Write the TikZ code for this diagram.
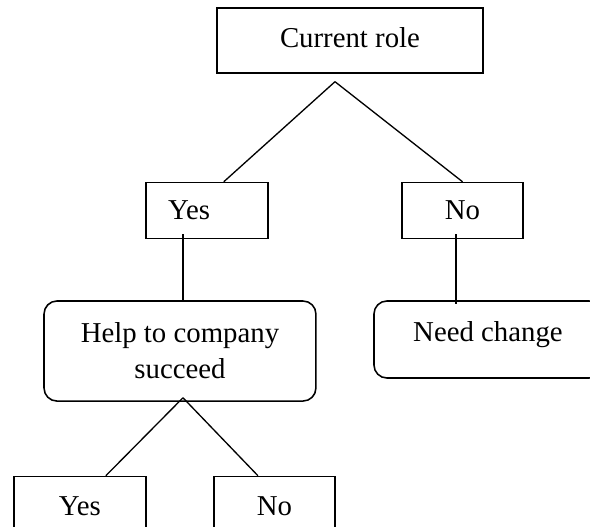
\documentclass[tikz,border=0pt]{standalone}
\usepackage{fontspec}
\setmainfont{Liberation Serif}
\usetikzlibrary{positioning}

\begin{document}
\begin{tikzpicture}[x=0.4167pt, y=-0.4167pt,
box/.style={rectangle, draw=black, line width=0.65pt, align=center, font=\fontsize{12}{15}\selectfont},
soft/.style={box, rounded corners=5.4pt},
link/.style={draw=black, line width=0.55pt} ]
\useasboundingbox (0,0) rectangle (590,527);
\node (R) [box, minimum width=110.8pt, minimum height=27.1pt, text depth=2.8pt] at (350,40.5) {Current role};
\node (Y) [box, text width=32.4pt, inner xsep=9.2pt, align=left, minimum height=23.3pt, below=45pt of R, xshift=-59.6pt] {Yes};
\node (N) [box, minimum width=50.4pt, minimum height=23.3pt, below=45pt of R, xshift=46.9pt] {No};
\node (H) [soft, minimum width=113.3pt, minimum height=41.7pt, below=25.4pt of Y, xshift=-11.25pt] {Help to company\\succeed};
\node (C) [soft, minimum width=95pt, minimum height=32.1pt, text depth=7pt, below=25.4pt of N, xshift=10.6pt] {Need change};
\node (Hy) [box, minimum width=55pt, minimum height=25pt, below=30.8pt of H, xshift=-41.7pt] {Yes};
\node (Hn) [box, minimum width=50.4pt, minimum height=25pt, below=30.8pt of H, xshift=39.4pt] {No};

\coordinate (P1) at ([xshift=-6.25pt, yshift=-3.3pt]R.south);
\coordinate (P2) at ([xshift=1.25pt, yshift=1.7pt]H.south);

\path (P1) edge[link] ([xshift=7pt]Y.north);
\path (P1) edge[link] (N.north);

\path ([xshift=-10pt, yshift=2pt]Y.south) edge[link] ([xshift=-10pt]Y.south |- H.north);
\path ([xshift=-2.7pt, yshift=2pt]N.south) edge[link] ([xshift=-2.7pt, yshift=-1.7pt]N.south |- C.north);

\path (P2) edge[link] ([xshift=10.8pt]Hy.north);
\path (P2) edge[link] ([xshift=-6.9pt]Hn.north);

\end{tikzpicture}
\end{document}
